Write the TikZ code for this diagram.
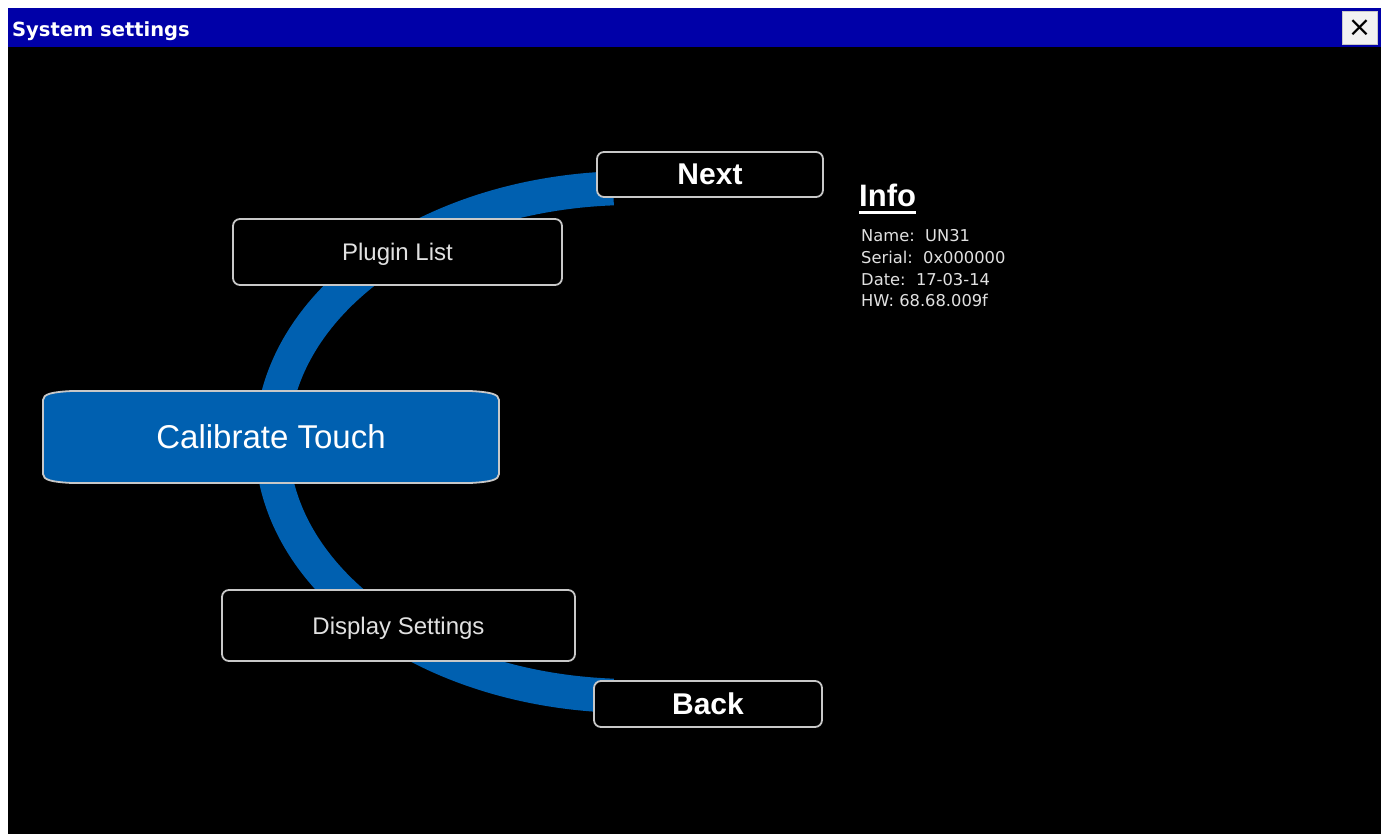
\documentclass[tikz,border=0pt]{standalone}
\usepackage{fontspec}
\setmainfont{Liberation Sans}
\newfontfamily\dvs{DejaVu Sans}
\usetikzlibrary{calc}
\definecolor{titleblue}{RGB}{0,0,168}
\definecolor{arcblue}{RGB}{0,96,176}
\definecolor{bordergray}{RGB}{200,200,200}
\definecolor{softwhite}{RGB}{225,225,225}
\definecolor{btnwhite}{RGB}{242,242,242}
\tikzset{
  btn/.style={draw=bordergray, line width=1.8pt, fill=black, rounded corners=7pt,
    inner sep=0pt, text=softwhite, text depth=0pt, font=\fontsize{24}{24}\selectfont},
  navbtn/.style={btn, text=white, font=\bfseries\fontsize{30}{30}\selectfont},
  calbox/.style={draw=bordergray, line width=1.8pt, fill=arcblue},
  caltext/.style={text=white, inner sep=0pt, text depth=0pt, font=\fontsize{33}{33}\selectfont},
  band/.style={draw=arcblue, line width=34pt},
  titletext/.style={text=white, inner sep=0pt, anchor=base west, font=\dvs\bfseries\fontsize{19.5}{20}\selectfont},
  closebtn/.style={fill=btnwhite, draw=bordergray, line width=0.8pt, inner sep=0pt,
    minimum width=35pt, minimum height=33pt, font=\dvs\fontsize{28}{28}\selectfont},
  infohead/.style={text=white, inner sep=0pt, anchor=base west, font=\bfseries\fontsize{31}{31}\selectfont},
  infoline/.style={text=softwhite, inner sep=0pt, anchor=base west, font=\dvs\fontsize{16.3}{17}\selectfont},
  underl/.style={draw=white, line width=3pt}
}
\begin{document}
\begin{tikzpicture}[x=1pt,y=-1pt]
\useasboundingbox (0,0) rectangle (1391,834);
\fill[white] (0,0) rectangle (1391,834);
\fill[black] (8,47) rectangle (1381,834);
\fill[titleblue] (8,8) rectangle (1381,47);
\node[titletext] (title) at (12,37) {System settings};
\node[closebtn] (close) at (1359.5,28) {×};

% blue arc band
\draw[band] (632,442) ++(93:360 and 254) arc[start angle=93, end angle=267, x radius=360, y radius=254];

% buttons
\node[navbtn, minimum width=226pt, minimum height=45pt] (next) at (710,174.5) {Next};
\node[btn, minimum width=329pt, minimum height=66pt] (plugin) at (397.5,252) {Plugin List};
\draw[calbox] (43,400) .. controls (43,394) and (52,392) .. (72,391) -- (470,391)
  .. controls (490,392) and (499,394) .. (499,400) -- (499,474)
  .. controls (499,480) and (490,482) .. (470,483) -- (72,483)
  .. controls (52,482) and (43,480) .. (43,474) -- cycle;
\node[caltext] (cal) at (271,437) {Calibrate Touch};
\node[btn, minimum width=353pt, minimum height=71pt] (display) at (398.5,625.5) {Display Settings};
\node[navbtn, minimum width=228pt, minimum height=46pt] (back) at (708,704) {Back};

% info
\node[infohead] (info) at (859,207) {Info};
\draw[underl] ([yshift=-6pt]info.base west) -- ([yshift=-6pt]info.base east);
\node[infoline] (name) at (861,242) {Name:\ \ UN31};
\node[infoline] (serial) at (861,263.5) {Serial:\ \ 0x000000};
\node[infoline] (date) at (861,285) {Date:\ \ 17-03-14};
\node[infoline] (hw) at (861,306.5) {HW: 68.68.009f};
\end{tikzpicture}
\end{document}
